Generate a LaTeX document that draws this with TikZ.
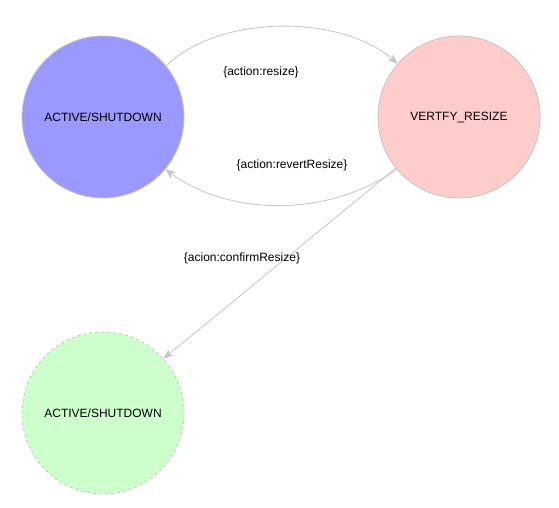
\documentclass[tikz,border=0pt]{standalone}
\usepackage{fontspec}
\setmainfont{Liberation Sans}
\usetikzlibrary{arrows.meta}
\definecolor{edgegray}{HTML}{C4C4C4}
\definecolor{blueS}{HTML}{9999FF}
\definecolor{pinkS}{HTML}{FFCCCC}
\definecolor{greenS}{HTML}{CCFFCC}
\tikzset{
  state/.style={circle, draw=edgegray, line width=0.8pt, minimum size=162pt, inner sep=0pt, font=\fontsize{12}{14}\selectfont},
  trans/.style={draw=edgegray, line width=0.8pt, -{Stealth[length=10pt,width=8pt,inset=3pt]}},
  lbl/.style={font=\fontsize{12}{14}\selectfont, inner sep=0pt}
}
\begin{document}
\begin{tikzpicture}[x=1pt,y=-1pt]
\useasboundingbox (0,0) rectangle (559,507);
\node[state, fill=blueS] (a) at (103,117) {ACTIVE/SHUTDOWN};
\node[state, fill=pinkS] (v) at (459,117) {VERTFY\_RESIZE};
\node[state, fill=greenS, dashed] (g) at (103,413) {ACTIVE/SHUTDOWN};
\draw[trans] (a.39) .. controls (220,14) and (340,14) .. (v.139);
\draw[trans] (v.220) .. controls (330,217) and (230,217) .. (a.320);
\draw[trans] (v.219) -- (g.42);
\node[lbl] (l1) at (261,72) {\{action:resize\}};
\node[lbl] (l2) at (292,165) {\{action:revertResize\}};
\node[lbl] (l3) at (242,258) {\{acion:confirmResize\}};
\end{tikzpicture}
\end{document}
